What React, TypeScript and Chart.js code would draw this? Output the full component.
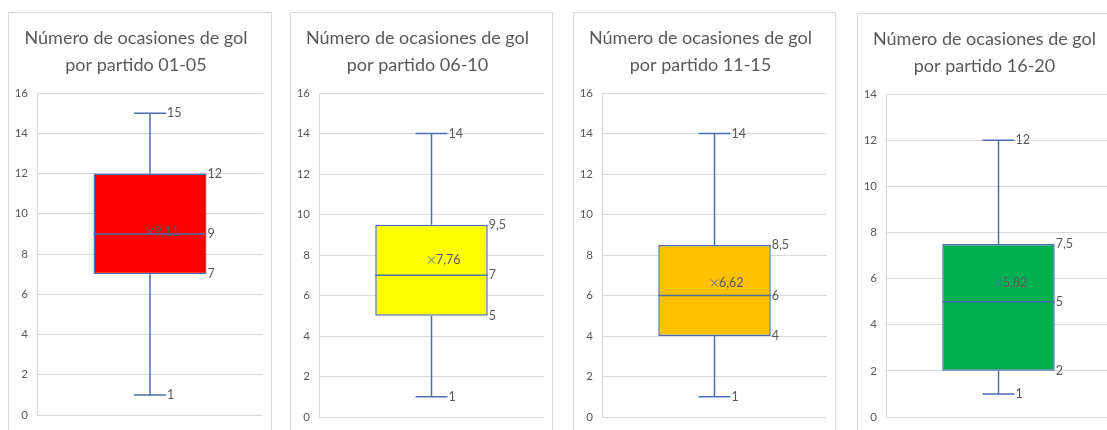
import React, { useEffect, useRef } from 'react';
import { Chart, registerables } from 'chart.js';

Chart.register(...registerables);

// Five-number summaries (and mean) of goal chances per match, grouped by match range
const periods = ['01-05', '06-10', '11-15', '16-20'];
const minValues = [1, 1, 1, 1];
const q1Values = [7, 5, 4, 2];
const medianValues = [9, 7, 6, 5];
const q3Values = [12, 9.5, 8.5, 7.5];
const maxValues = [15, 14, 14, 12];
const meanValues = [9.11, 7.76, 6.62, 5.82];
const axisMax = [16, 16, 16, 14];
const axisStep = 2;

const titleMain = 'Número de ocasiones de gol';
const titlePrefix = 'por partido ';

// Styling
const boxColors = ['#FF0000', '#FFFF00', '#FFC000', '#00B050'];
const LINE = '#4A6FAE';
const TEXT = '#595959';
const GRID = '#D9D9D9';
const FONT = 'Lato, "Open Sans", sans-serif';
const CANVAS_H = 420;

// Placement of each chart frame on the page (plotBottom = plot bottom inside the canvas)
const frames = [
  { left: 8, top: 12, width: 264, plotBottom: 402 },
  { left: 290, top: 12, width: 263, plotBottom: 404 },
  { left: 573, top: 12, width: 263, plotBottom: 405 },
  { left: 857, top: 13, width: 263, plotBottom: 403 },
];

const fmt = (v: number) => String(v).replace('.', ',');

type Stats = { min: number; q1: number; median: number; q3: number; max: number; mean: number };

// Draws whiskers, median, mean marker and the value labels around the box bar
const boxWhiskerPlugin = {
  id: 'boxWhisker',
  afterDatasetsDraw(chart: any, _args: any, opts: Stats) {
    const bar = chart.getDatasetMeta(0).data[0];
    if (!bar) return;
    const x: number = bar.x;
    const half: number = bar.width / 2;
    const cap = bar.width * 0.142;
    const py = (v: number) => chart.scales.y.getPixelForValue(v);
    const ctx: CanvasRenderingContext2D = chart.ctx;
    ctx.save();
    ctx.strokeStyle = LINE;
    ctx.lineWidth = 1.5;
    ctx.beginPath();
    ctx.moveTo(x, py(opts.max));
    ctx.lineTo(x, py(opts.q3));
    ctx.moveTo(x, py(opts.q1));
    ctx.lineTo(x, py(opts.min));
    ctx.moveTo(x - cap, py(opts.max));
    ctx.lineTo(x + cap, py(opts.max));
    ctx.moveTo(x - cap, py(opts.min));
    ctx.lineTo(x + cap, py(opts.min));
    ctx.moveTo(x - half, py(opts.median));
    ctx.lineTo(x + half, py(opts.median));
    ctx.stroke();

    // mean marker
    const my = py(opts.mean);
    const r = 3.5;
    ctx.lineWidth = 1;
    ctx.beginPath();
    ctx.moveTo(x - r, my - r);
    ctx.lineTo(x + r, my + r);
    ctx.moveTo(x - r, my + r);
    ctx.lineTo(x + r, my - r);
    ctx.stroke();

    ctx.fillStyle = TEXT;
    ctx.font = `12.5px ${FONT}`;
    ctx.textBaseline = 'middle';
    ctx.textAlign = 'left';
    ctx.fillText(fmt(opts.mean), x + r + 1, my);
    ctx.fillText(fmt(opts.max), x + cap + 1, py(opts.max));
    ctx.fillText(fmt(opts.min), x + cap + 1, py(opts.min));
    [opts.q3, opts.median, opts.q1].forEach((v) => ctx.fillText(fmt(v), x + half + 1, py(v)));
    ctx.restore();
  },
};

function BoxPanel({ index }: { index: number }) {
  const ref = useRef<HTMLCanvasElement>(null);
  const frame = frames[index];
  const innerWidth = frame.width - 2;

  useEffect(() => {
    if (!ref.current) return;
    const stats: Stats = {
      min: minValues[index],
      q1: q1Values[index],
      median: medianValues[index],
      q3: q3Values[index],
      max: maxValues[index],
      mean: meanValues[index],
    };
    const chart = new Chart(ref.current, {
      type: 'bar',
      data: {
        labels: [periods[index]],
        datasets: [
          {
            data: [[q1Values[index], q3Values[index]]] as any,
            backgroundColor: boxColors[index],
            borderColor: LINE,
            borderWidth: 1.5,
            borderSkipped: false,
            categoryPercentage: 1,
            barPercentage: 0.5,
          },
        ],
      },
      options: {
        responsive: false,
        animation: false,
        layout: { padding: { left: 0, right: 8, top: 0, bottom: CANVAS_H - frame.plotBottom } },
        plugins: {
          legend: { display: false },
          tooltip: { enabled: false },
          title: {
            display: true,
            text: [titleMain, titlePrefix + periods[index]],
            color: TEXT,
            font: { family: FONT, size: 18, weight: 'normal', lineHeight: '27px' } as any,
            padding: { top: 11.5, bottom: 14.5 },
          },
          boxWhisker: stats,
        } as any,
        scales: {
          x: { display: false },
          y: {
            min: 0,
            max: axisMax[index],
            ticks: { stepSize: axisStep, color: TEXT, font: { family: FONT, size: 11.5 }, padding: 9 },
            grid: { color: GRID, drawTicks: false },
            border: { display: true, color: GRID },
            afterFit: (scale: any) => {
              scale.width = 28;
            },
          },
        },
      },
      plugins: [boxWhiskerPlugin],
    });
    return () => chart.destroy();
  }, [index]);

  return (
    <div
      style={{
        position: 'absolute',
        left: frame.left,
        top: frame.top,
        width: frame.width,
        height: 440,
        boxSizing: 'border-box',
        border: `1px solid ${GRID}`,
        background: '#fff',
      }}
    >
      <canvas ref={ref} width={innerWidth} height={CANVAS_H} style={{ display: 'block' }} />
    </div>
  );
}

export default function App() {
  return (
    <div
      style={{
        position: 'fixed',
        left: 0,
        top: 0,
        width: 1107,
        height: 430,
        overflow: 'hidden',
        background: '#fff',
      }}
    >
      {periods.map((_, i) => (
        <BoxPanel key={periods[i]} index={i} />
      ))}
    </div>
  );
}
